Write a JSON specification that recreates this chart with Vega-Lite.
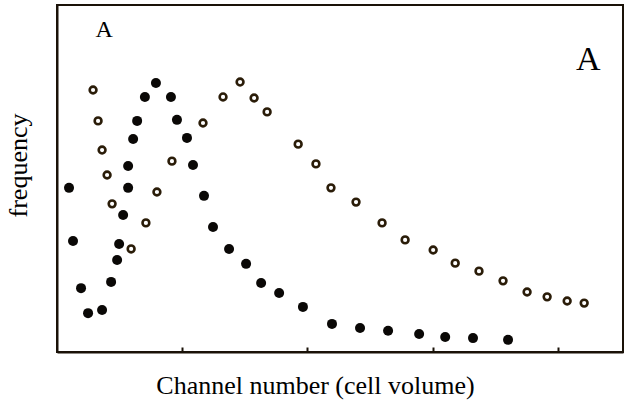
{
  "$schema": "https://vega.github.io/schema/vega-lite/v6.json",
  "width": 566,
  "height": 347,
  "autosize": {"type": "none"},
  "padding": {"left": 57, "top": 5, "right": 15, "bottom": 48},
  "background": "white",
  "config": {
    "view": {"stroke": "#1a1208", "strokeWidth": 2},
    "font": "Liberation Serif",
    "axis": {"grid": false, "domainColor": "#1a1208", "domainWidth": 2, "labels": false, "titleFont": "Liberation Serif", "titleFontWeight": "normal", "titleColor": "#000000", "titleFontSize": 26}
  },
  "datasets": {
    "filled": [
      {"channel": 4.8, "frequency": 47.3},
      {"channel": 6.4, "frequency": 32.0},
      {"channel": 9.6, "frequency": 18.4},
      {"channel": 12.4, "frequency": 11.2},
      {"channel": 18.0, "frequency": 12.1},
      {"channel": 21.6, "frequency": 20.2},
      {"channel": 24.0, "frequency": 26.5},
      {"channel": 24.8, "frequency": 31.1},
      {"channel": 26.4, "frequency": 39.5},
      {"channel": 28.4, "frequency": 47.3},
      {"channel": 28.4, "frequency": 53.6},
      {"channel": 30.4, "frequency": 61.4},
      {"channel": 32.0, "frequency": 66.6},
      {"channel": 35.1, "frequency": 73.5},
      {"channel": 39.5, "frequency": 77.5},
      {"channel": 45.5, "frequency": 73.5},
      {"channel": 47.9, "frequency": 66.9},
      {"channel": 51.9, "frequency": 61.7},
      {"channel": 54.3, "frequency": 53.9},
      {"channel": 58.7, "frequency": 45.0},
      {"channel": 62.3, "frequency": 36.0},
      {"channel": 68.7, "frequency": 29.7},
      {"channel": 75.5, "frequency": 25.4},
      {"channel": 81.5, "frequency": 19.9},
      {"channel": 88.7, "frequency": 17.0},
      {"channel": 98.2, "frequency": 13.0},
      {"channel": 109.8, "frequency": 8.1},
      {"channel": 121.0, "frequency": 6.9},
      {"channel": 132.2, "frequency": 6.1},
      {"channel": 144.6, "frequency": 5.2},
      {"channel": 155.0, "frequency": 4.3},
      {"channel": 166.1, "frequency": 4.0},
      {"channel": 180.1, "frequency": 3.5}
    ],
    "open": [
      {"channel": 14.4, "frequency": 75.5},
      {"channel": 16.4, "frequency": 66.6},
      {"channel": 18.0, "frequency": 58.2},
      {"channel": 20.0, "frequency": 51.0},
      {"channel": 22.0, "frequency": 42.7},
      {"channel": 29.6, "frequency": 29.7},
      {"channel": 35.5, "frequency": 37.2},
      {"channel": 39.9, "frequency": 46.1},
      {"channel": 45.9, "frequency": 55.0},
      {"channel": 58.3, "frequency": 66.0},
      {"channel": 66.3, "frequency": 73.5},
      {"channel": 73.1, "frequency": 77.8},
      {"channel": 78.7, "frequency": 73.2},
      {"channel": 83.9, "frequency": 69.2},
      {"channel": 96.3, "frequency": 59.9},
      {"channel": 103.4, "frequency": 54.2},
      {"channel": 109.4, "frequency": 47.3},
      {"channel": 119.4, "frequency": 43.2},
      {"channel": 129.8, "frequency": 37.2},
      {"channel": 139.0, "frequency": 32.3},
      {"channel": 150.2, "frequency": 29.4},
      {"channel": 159.0, "frequency": 25.6},
      {"channel": 168.5, "frequency": 23.3},
      {"channel": 178.1, "frequency": 20.5},
      {"channel": 187.7, "frequency": 17.3},
      {"channel": 195.7, "frequency": 15.9},
      {"channel": 203.7, "frequency": 14.7},
      {"channel": 210.5, "frequency": 14.1}
    ],
    "smallLabel": [{"channel": 18.8, "frequency": 90.8, "text": "A"}],
    "bigLabel": [{"channel": 212.1, "frequency": 81.3, "text": "A"}]
  },
  "encoding": {
    "x": {
      "field": "channel", "type": "quantitative",
      "scale": {"domain": [0, 226], "nice": false, "zero": false},
      "axis": {"values": [50, 100, 150, 200], "tickSize": -5, "tickWidth": 2, "tickColor": "#1a1208", "title": "Channel number (cell volume)", "titleAlign": "center", "titleX": 258, "titleY": 41, "titleBaseline": "alphabetic"}
    },
    "y": {
      "field": "frequency", "type": "quantitative",
      "scale": {"domain": [0, 100], "nice": false, "zero": false},
      "axis": {"ticks": false, "title": "frequency", "titleAngle": 270, "titleAlign": "center", "titleBaseline": "alphabetic", "titleX": -31, "titleY": 160}
    }
  },
  "layer": [
    {
      "data": {"name": "filled"},
      "mark": {"type": "point", "shape": "circle", "filled": true, "size": 100, "color": "#0a0806", "opacity": 1}
    },
    {
      "data": {"name": "open"},
      "mark": {"type": "point", "shape": "circle", "filled": false, "size": 46, "stroke": "#2a1c08", "strokeWidth": 2.6, "fill": "white", "fillOpacity": 1, "opacity": 1}
    },
    {
      "data": {"name": "smallLabel"},
      "mark": {"type": "text", "font": "Liberation Serif", "fontSize": 24, "align": "center", "baseline": "alphabetic", "color": "#000000"},
      "encoding": {"text": {"field": "text"}}
    },
    {
      "data": {"name": "bigLabel"},
      "mark": {"type": "text", "font": "Liberation Serif", "fontSize": 34, "align": "center", "baseline": "alphabetic", "color": "#000000"},
      "encoding": {"text": {"field": "text"}}
    }
  ]
}
